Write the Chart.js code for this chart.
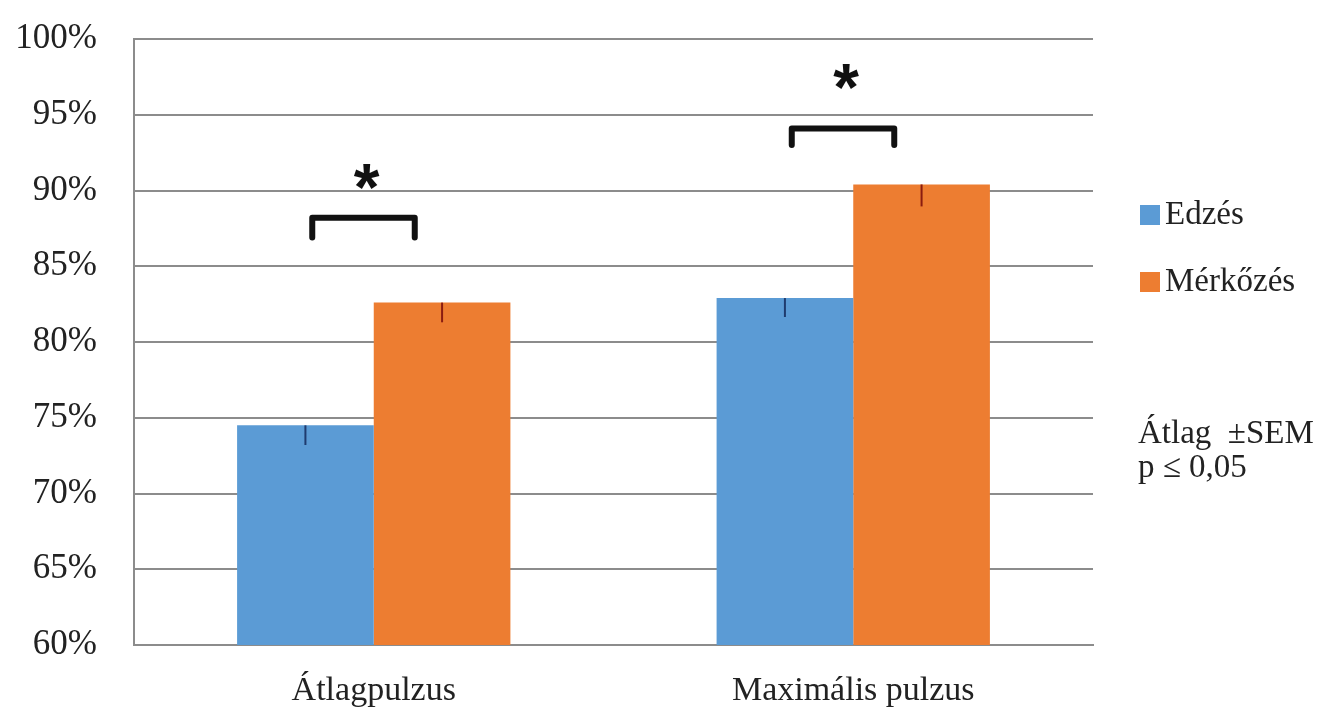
<!DOCTYPE html>
<html lang="hu">

<head>
    <meta charset="UTF-8">
    <title>Pulzus</title>
    <script src="https://cdn.jsdelivr.net/npm/chart.js"></script>
    <style>
        body { margin: 0; background: #fff; }
        #box { width: 1341px; height: 715px; }
    </style>
</head>

<body>
    <div id="box"><canvas id="pulzusChart"></canvas></div>
</body>

</html>
<script>
    // adatok
    const kategoriak = ['Átlagpulzus', 'Maximális pulzus'];
    const sorozatNevek = ['Edzés', 'Mérkőzés'];
    const edzes = [74.5, 82.9];
    const merkozes = [82.6, 90.4];
    const edzesSem = [1.3, 1.25];
    const merkozesSem = [1.3, 1.45];
    // szignifikancia jelek (y értékek %)
    const zarojelTeteje = [88.2, 94.1];
    const zarojelAlja = [86.9, 93.0];
    const csillagY = [90.8, 97.4];
    const yTickek = [60, 65, 70, 75, 80, 85, 90, 95, 100];
    const megjegyzes = ['Átlag  ±SEM', 'p ≤ 0,05'];

    const kek = '#5b9bd5';
    const narancs = '#ed7d31';
    const betu = '"Liberation Serif", "Times New Roman", serif';

    // hibasávok, zárójelek, jelmagyarázat
    const rajzolo = {
        id: 'rajzolo',
        afterDatasetsDraw(chart) {
            const ctx = chart.ctx;
            const y = chart.scales.y;
            const m0 = chart.getDatasetMeta(0).data;
            const m1 = chart.getDatasetMeta(1).data;
            const semek = [edzesSem, merkozesSem];
            const ertekek = [edzes, merkozes];
            const szinek = ['#1f3b6e', '#8a1c10'];

            ctx.save();
            ctx.lineWidth = 2;
            [m0, m1].forEach(function (meta, d) {
                meta.forEach(function (bar, i) {
                    ctx.strokeStyle = szinek[d];
                    ctx.beginPath();
                    ctx.moveTo(bar.x, y.getPixelForValue(ertekek[d][i]));
                    ctx.lineTo(bar.x, y.getPixelForValue(ertekek[d][i] - semek[d][i]));
                    ctx.stroke();
                });
            });

            // zárójelek
            ctx.strokeStyle = '#111';
            ctx.lineWidth = 6;
            ctx.lineCap = 'round';
            ctx.lineJoin = 'round';
            for (let i = 0; i < kategoriak.length; i++) {
                const kozep = (m0[i].x + m1[i].x) / 2;
                const w = m0[i].width;
                const bal = kozep - 0.45 * w;
                const jobb = kozep + 0.3 * w;
                ctx.beginPath();
                ctx.moveTo(bal, y.getPixelForValue(zarojelAlja[i]));
                ctx.lineTo(bal, y.getPixelForValue(zarojelTeteje[i]));
                ctx.lineTo(jobb, y.getPixelForValue(zarojelTeteje[i]));
                ctx.lineTo(jobb, y.getPixelForValue(zarojelAlja[i]));
                ctx.stroke();

                ctx.fillStyle = '#111';
                ctx.font = 'bold 66px "Liberation Sans", Arial, sans-serif';
                ctx.textAlign = 'center';
                ctx.textBaseline = 'alphabetic';
                ctx.fillText('*', (bal + jobb) / 2 + 3, y.getPixelForValue(csillagY[i]) + 32);
            }
            ctx.restore();
        },
        afterDraw(chart) {
            const ctx = chart.ctx;
            ctx.save();
            ctx.font = '33px ' + betu;
            ctx.textBaseline = 'middle';
            ctx.textAlign = 'left';
            const legendY = [215, 282];
            const szin = [kek, narancs];
            for (let i = 0; i < sorozatNevek.length; i++) {
                ctx.fillStyle = szin[i];
                ctx.fillRect(1140, legendY[i] - 10, 20, 20);
                ctx.fillStyle = '#222';
                ctx.fillText(sorozatNevek[i], 1165, legendY[i]);
            }
            ctx.fillText(megjegyzes[0], 1138, 434);
            ctx.fillText(megjegyzes[1], 1138, 468);
            ctx.restore();
        }
    };

    const dados = {
        labels: kategoriak,
        datasets: [{
            label: sorozatNevek[0],
            data: edzes,
            backgroundColor: kek,
            categoryPercentage: 0.57,
            barPercentage: 1.0
        }, {
            label: sorozatNevek[1],
            data: merkozes,
            backgroundColor: narancs,
            categoryPercentage: 0.57,
            barPercentage: 1.0
        }]
    };

    const config = {
        type: 'bar',
        data: dados,
        options: {
            responsive: true,
            maintainAspectRatio: false,
            animation: false,
            layout: { padding: { top: 39, right: 248, left: 0, bottom: 0 } },
            plugins: {
                legend: { display: false },
                tooltip: { enabled: false }
            },
            scales: {
                x: {
                    grid: { display: false, drawTicks: false },
                    border: { color: '#8c8c8c', width: 2 },
                    ticks: {
                        color: '#222',
                        font: { family: betu, size: 34 },
                        padding: 26
                    },
                    afterFit: function (scale) { scale.height = 70; }
                },
                y: {
                    min: 60,
                    max: 100,
                    afterBuildTicks: function (scale) {
                        scale.ticks = yTickek.map(v => ({ value: v }));
                    },
                    grid: { color: '#8c8c8c', lineWidth: 2, drawTicks: false },
                    border: { color: '#8c8c8c', width: 2 },
                    ticks: {
                        color: '#222',
                        font: { family: betu, size: 35 },
                        padding: 37,
                        callback: function (v) { return v + '%'; }
                    },
                    afterFit: function (scale) {
                        scale.width = 134;
                        scale.paddingTop = 0;
                        scale.paddingBottom = 0;
                    }
                }
            }
        },
        plugins: [rajzolo]
    };

    const myChart = new Chart(document.querySelector('#pulzusChart'), config);
</script>
